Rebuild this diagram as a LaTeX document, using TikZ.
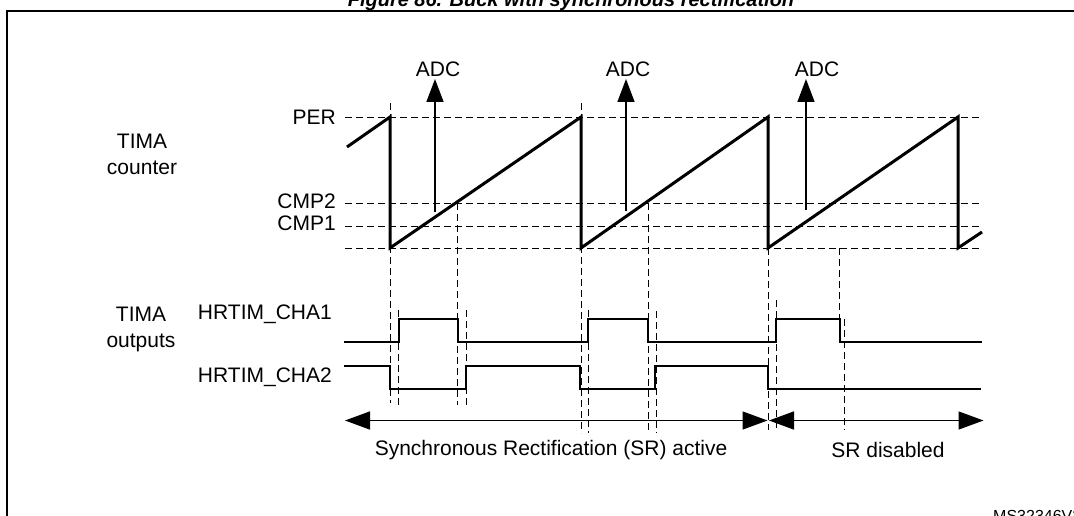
\documentclass[tikz,border=0pt]{standalone}
\usepackage{fontspec}
\setmainfont{Liberation Sans}
\usetikzlibrary{arrows.meta, positioning}

\begin{document}
\begin{tikzpicture}[x=1pt, y=-1pt, font=\fontsize{21}{26}\selectfont,
    guide/.style={dash pattern=on 7pt off 4pt, line width=0.9pt},
    ramp/.style={line width=3pt, line join=miter},
    wave/.style={line width=2pt},
    adcarrow/.style={line width=1.5pt, -{Triangle[length=23pt, width=17pt]}},
    srspan/.style={line width=1.5pt,
      {Triangle[length=25pt, width=18pt]}-{Triangle[length=25pt, width=18pt]}},
    lbl/.style={inner sep=0pt, anchor=east}]

  \useasboundingbox (0,0) rectangle (1074,516);

  % frame and clipped title
  \draw[line width=1.7pt] (7,540) -- (7,11) -- (1090,11);
  \node[font=\fontsize{20}{24}\selectfont\bfseries\itshape, anchor=base]
    (title) at (571,7) {Figure 86. Buck with synchronous rectification};

  % counter levels
  \draw[guide] (345,117) -- (982,117);
  \draw[guide] (345,203) -- (982,203);
  \draw[guide] (345,226) -- (982,226);
  \draw[guide] (345,248) -- (982,248);
  \node[lbl] (per)  at (336,117) {PER};
  \node[lbl] (cmp2) at (336,201) {CMP2};
  \node[lbl] (cmp1) at (336,223) {CMP1};
  \node[align=center] (cnt) at (142,154) {TIMA\\counter};

  % sawtooth
  \draw[ramp] (347,147) -- (390,117) -- (390,248) -- (581,117) -- (581,248)
    -- (768,117) -- (768,248) -- (958,117) -- (958,248) -- (982,232);

  % ADC triggers
  \node (adc1) at (438,69) {ADC};
  \node (adc2) at (628,69) {ADC};
  \node (adc3) at (817,69) {ADC};
  \coordinate (t1) at (435,212);
  \coordinate (t2) at (626,211);
  \coordinate (t3) at (806,210);
  \draw[adcarrow] (t1) -- (t1 |- 0,79);
  \draw[adcarrow] (t2) -- (t2 |- 0,79);
  \draw[adcarrow] (t3) -- (t3 |- 0,79);

  % timing guides
  \draw[guide] (390,103) -- (390,403);
  \draw[guide] (398,310) -- (398,405);
  \draw[guide] (457,203) -- (457,405);
  \draw[guide] (466,310) -- (466,406);
  \draw[guide] (581,103) -- (581,433);
  \draw[guide] (588,310) -- (588,433);
  \draw[guide] (648,203) -- (648,433);
  \draw[guide] (656,311) -- (656,433);
  \draw[guide] (768,248) -- (768,430);
  \draw[guide] (776,300) -- (776,430);
  \draw[guide] (839.5,248) -- (839.5,319);
  \draw[guide] (844,319) -- (844,430);

  % outputs
  \node[align=center] (outs) at (141,329) {TIMA\\outputs};
  \node[lbl] (cha1) at (332,314) {HRTIM\_CHA1};
  \node[lbl] (cha2) at (332,377) {HRTIM\_CHA2};
  \draw[wave] (344,342) -- (399,342) -- (399,319) -- (458,319) -- (458,342)
    -- (588,342) -- (588,319) -- (648,319) -- (648,342) -- (776,342)
    -- (776,319) -- (840,319) -- (840,342) -- (982,342);
  \draw[wave] (344,366) -- (390,366) -- (390,389) -- (466,389) -- (466,366)
    -- (580,366) -- (580,389) -- (655,389) -- (655,366) -- (768,366)
    -- (768,389) -- (981,389);

  % SR spans
  \coordinate (sr0) at (345,420.5);
  \coordinate (sr1) at (767.5,420.5);
  \coordinate (sd0) at (769,420.5);
  \coordinate (sd1) at (983.5,420.5);
  \draw[srspan] (sr0) -- (sr1);
  \draw[srspan] (sd0) -- (sd1);
  \node (srtxt) at (551,450) {Synchronous Rectification (SR) active};
  \node (sdtxt) at (888,450) {SR disabled};

  \node[anchor=north west, inner sep=0pt, font=\fontsize{16}{19}\selectfont]
    (ms) at (993,510) {MS32346V2};

\end{tikzpicture}
\end{document}
